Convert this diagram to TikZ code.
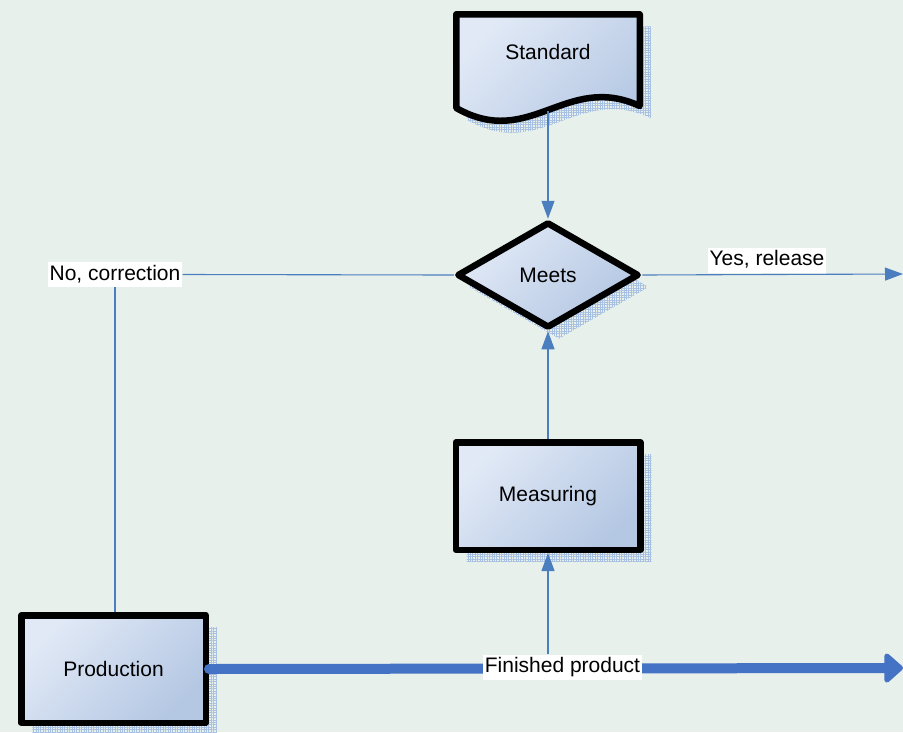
\documentclass[tikz,border=0pt]{standalone}
\usepackage{fontspec}
\setmainfont{Liberation Sans}
\usetikzlibrary{arrows.meta,shapes.geometric,shadows,patterns.meta}
\definecolor{bgc}{RGB}{232,240,235}
\definecolor{shlight}{RGB}{225,233,246}
\definecolor{shdark}{RGB}{180,199,227}
\definecolor{linec}{RGB}{74,126,190}
\definecolor{thickc}{RGB}{68,114,196}
\definecolor{dotc}{RGB}{168,192,226}

\begin{document}
\begin{tikzpicture}[x=1pt,y=-1pt]
        \tikzstyle{flowbox}=[draw=black, line width=6.5pt, line join=round, top color=shlight, bottom color=shdark, shading angle=45, general shadow={shadow xshift=11pt, shadow yshift=-12pt, pattern={Hatch[angle=0, distance=2.4pt, line width=0.7pt]}, pattern color=dotc}, font=\fontsize{21}{24}\selectfont]
        \tikzstyle{flowtag}=[fill=white, inner sep=2pt, text height=16pt, text depth=5pt, font=\fontsize{21}{24}\selectfont]
        \tikzstyle{link}=[draw=linec, line width=1.1pt]
        \tikzstyle{linkarrow}=[-{Triangle[length=18pt,width=13pt]}]

        % Background
        \path[use as bounding box, fill=bgc] (0,0) rectangle (903,732);
        \clip (0,0) rectangle (903,732);

        % Draw the document shape
        \draw[flowbox] (456.25,108) -- (456.25,14.25) -- (639.75,14.25) -- (639.75,106)
            .. controls (566,72) and (530,150) .. (456.25,108) -- cycle;
        \node[font=\fontsize{21}{24}\selectfont] (std) at (548,52) {Standard};
        \coordinate (stdb) at (548,111);

        % Draw decision and process boxes
        \node[flowbox, diamond, minimum width=182pt, minimum height=106pt, inner sep=0pt] (meets) at (548,275) {Meets};
        \node[flowbox, minimum width=184.5pt, minimum height=107.5pt] (meas) at (548,496) {Measuring};
        \node[flowbox, minimum width=184.5pt, minimum height=107.5pt] (prod) at (113.5,669) {Production};

        % Free ends
        \coordinate (rel) at (903,274);
        \coordinate (out) at (903,668);

        % Product flow
        \draw[line width=10pt, thickc, line cap=round, -{Triangle[length=20pt,width=34pt,round=false]}] (prod.east) -- (out);

        % Add labels
        \node[flowtag] (fin) at (562.5,667) {Finished product};
        \node[flowtag] (no) at (115,274.5) {No, correction};
        \node[flowtag] (yes) at (767,260) {Yes, release};

        % Connectors
        \draw[link, linkarrow] (stdb) -- (meets.north);
        \draw[link, linkarrow] (meas.north) -- (meets.south);
        \draw[link, linkarrow] (fin.north -| meas.south) -- (meas.south);
        \draw[link, linkarrow] (meets.east) -- (rel);
        \draw[link] (meets.west) -- (no.east);
        \draw[link] (no.south) -- (no.south |- prod.north);
    \end{tikzpicture}
\end{document}
